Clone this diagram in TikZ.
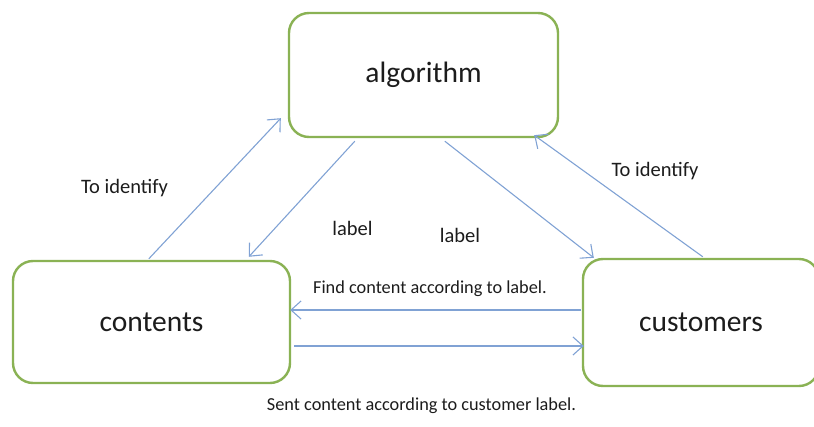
\documentclass[tikz,border=0pt]{standalone}
\usepackage{fontspec}
\setmainfont{Carlito}
\usetikzlibrary{arrows.meta,calc}
\definecolor{boxgreen}{RGB}{138,178,84}
\definecolor{flowblue}{RGB}{128,162,212}
\definecolor{inktext}{RGB}{28,28,28}
\begin{document}
\begin{tikzpicture}[x=1pt,y=-1pt,
  block/.style={draw=boxgreen, line width=2.4pt, rounded corners=20pt, fill=white,
    text=inktext, font=\fontsize{29.5}{34}\selectfont, inner sep=0pt},
  flow/.style={draw=flowblue, line width=1.1pt,
    -{Straight Barb[length=10pt,width=18pt,line width=1.1pt]}},
  note/.style={text=inktext, font=\fontsize{18.3}{22}\selectfont, inner sep=0pt},
  bignote/.style={note, font=\fontsize{20.5}{24}\selectfont}]
  \useasboundingbox (0,0) rectangle (814,427);

  % the three blocks
  \node[block, minimum width=269pt, minimum height=124pt] (alg) at (423.5,75) {algorithm};
  \node[block, minimum width=277pt, minimum height=122pt] (con) at (151.5,322) {contents};
  \node[block, minimum width=236pt, minimum height=127pt] (cus) at (701,322.5) {customers};

  % connectors
  \draw[flow] ($(con.north west)+(137,-1)$) -- ($(alg.south west)+(-7,-20)$);
  \draw[flow] ($(alg.south west)+(67,3)$) -- ($(con.north west)+(237,-3)$);
  \draw[flow] ($(alg.south west)+(157,3)$) -- ($(cus.north west)+(12,0)$);
  \draw[flow] ($(cus.north west)+(121,-1)$) -- ($(alg.south east)+(-25,-3)$);
  \draw[flow] ($(cus.west)+(-1,-12.5)$) -- ($(con.east)+(-1,-12)$);
  \draw[flow] ($(con.east)+(3,24)$) -- ($(cus.west)+(2,23.5)$);

  % labels
  \node[bignote] (t1) at (124.5,188) {To identify};
  \node[bignote] (t2) at (655,171) {To identify};
  \node[bignote] (l1) at (352.5,228) {label};
  \node[bignote] (l2) at (460,235) {label};
  \node[note] (f1) at (430,289) {Find content according to label.};
  \node[note] (s1) at (421.5,406) {Sent content according to customer label.};
\end{tikzpicture}
\end{document}
